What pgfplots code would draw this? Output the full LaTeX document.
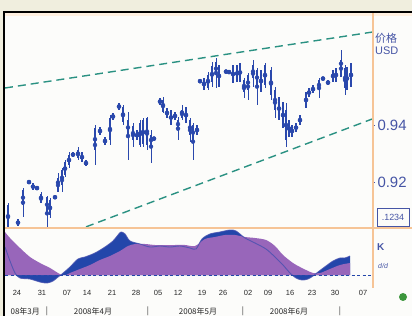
\documentclass[border=0pt]{standalone}
\usepackage{fontspec}
\setmainfont{Liberation Sans}
\newfontfamily\cjk{Noto Sans CJK SC}
\usepackage{pgfplots}
\pgfplotsset{compat=1.18}
\usepackage{pgfplotstable}
\definecolor{bg}{RGB}{240,238,222}
\definecolor{paper}{RGB}{252,252,250}
\definecolor{barblue}{RGB}{42,72,172}
\definecolor{trend}{RGB}{42,145,130}
\definecolor{orangeline}{RGB}{246,196,150}
\definecolor{lblblue}{RGB}{70,85,165}
\definecolor{macdblue}{RGB}{35,70,170}
\definecolor{sigpurple}{RGB}{152,102,186}

\pgfplotstableread{
x hi lo bhi blo
8 0.9126 0.9030 0.9119 0.9042
18 0.9070 0.9046 0.9070 0.9046
23 0.9179 0.9077 0.9172 0.9119
29 0.9207 0.9193 0.9207 0.9193
33 0.9196 0.9172 0.9196 0.9172
37 0.9186 0.9172 0.9186 0.9172
41 0.9165 0.9126 0.9158 0.9126
47 0.9151 0.9030 0.9147 0.9095
50 0.9144 0.9074 0.9137 0.9084
55 0.9154 0.9140 0.9154 0.9140
58 0.9232 0.9165 0.9214 0.9165
62 0.9249 0.9165 0.9242 0.9189
65 0.9277 0.9218 0.9270 0.9225
69 0.9305 0.9249 0.9295 0.9260
73 0.9305 0.9288 0.9305 0.9288
78 0.9323 0.9277 0.9312 0.9284
82 0.9305 0.9270 0.9305 0.9270
86 0.9277 0.9256 0.9277 0.9256
95 0.9400 0.9260 0.9389 0.9312
100 0.9393 0.9365 0.9393 0.9365
105 0.9358 0.9330 0.9358 0.9330
110 0.9435 0.9330 0.9425 0.9347
113 0.9442 0.9418 0.9442 0.9418
119 0.9477 0.9453 0.9477 0.9453
123 0.9470 0.9400 0.9463 0.9411
128 0.9446 0.9277 0.9418 0.9365
133 0.9407 0.9323 0.9396 0.9347
137 0.9382 0.9347 0.9382 0.9347
140 0.9418 0.9323 0.9407 0.9330
143 0.9425 0.9323 0.9418 0.9333
147 0.9428 0.9312 0.9425 0.9330
151 0.9382 0.9267 0.9365 0.9330
154 0.9358 0.9347 0.9358 0.9347
160 0.9495 0.9470 0.9495 0.9470
163 0.9498 0.9442 0.9488 0.9446
167 0.9460 0.9425 0.9460 0.9425
171 0.9453 0.9400 0.9453 0.9400
175 0.9446 0.9418 0.9446 0.9418
178 0.9428 0.9347 0.9418 0.9389
182 0.9470 0.9418 0.9453 0.9425
186 0.9463 0.9407 0.9463 0.9407
190 0.9425 0.9340 0.9418 0.9365
193 0.9407 0.9277 0.9400 0.9347
197 0.9400 0.9365 0.9400 0.9365
200 0.9561 0.9547 0.9561 0.9547
204 0.9565 0.9523 0.9565 0.9523
208 0.9586 0.9523 0.9575 0.9530
212 0.9621 0.9533 0.9607 0.9551
216 0.9635 0.9530 0.9621 0.9575
219 0.9611 0.9533 0.9611 0.9533
226 0.9593 0.9582 0.9593 0.9582
229 0.9593 0.9579 0.9593 0.9579
233 0.9611 0.9547 0.9611 0.9547
237 0.9611 0.9551 0.9611 0.9551
240 0.9618 0.9551 0.9618 0.9551
244 0.9565 0.9495 0.9558 0.9516
248 0.9582 0.9488 0.9575 0.9523
253 0.9628 0.9533 0.9611 0.9565
257 0.9600 0.9470 0.9593 0.9540
261 0.9593 0.9516 0.9593 0.9516
265 0.9618 0.9530 0.9611 0.9540
271 0.9604 0.9488 0.9593 0.9505
275 0.9533 0.9425 0.9523 0.9453
279 0.9498 0.9418 0.9498 0.9418
283 0.9481 0.9389 0.9481 0.9389
286 0.9477 0.9323 0.9453 0.9347
289 0.9418 0.9358 0.9418 0.9358
292 0.9400 0.9358 0.9400 0.9358
296 0.9407 0.9375 0.9407 0.9375
300 0.9435 0.9400 0.9435 0.9400
306 0.9516 0.9460 0.9516 0.9460
309 0.9530 0.9498 0.9530 0.9498
313 0.9540 0.9512 0.9540 0.9512
319 0.9565 0.9495 0.9558 0.9523
323 0.9568 0.9558 0.9568 0.9558
328 0.9558 0.9540 0.9558 0.9540
333 0.9593 0.9551 0.9593 0.9551
336 0.9600 0.9551 0.9600 0.9551
341 0.9663 0.9568 0.9628 0.9568
345 0.9611 0.9505 0.9600 0.9530
347 0.9604 0.9523 0.9604 0.9523
351 0.9618 0.9533 0.9618 0.9533
}\bars

\pgfplotstableread{
x v
5 28
10 14
15 2
20 -3
30 -4
40 -7
47 -8
53 -6
58 -2
62 1
70 8
78 16
85 18
95 22
105 28
113 34
118 40
121 43
125 41
130 34
140 31
150 28
160 29
170 28
180 29
190 27
196 26
202 36
210 41
220 43
230 45
236 44
245 37
255 32
266 26
275 18
283 10
290 2
296 -3
302 -5
308 -4
313 -1
318 3
326 9
333 14
340 17
345 17
350 19
}\macd

\pgfplotstableread{
x v
5 43
10 37
20 27
30 18
40 12
50 7
58 2
62 0
66 0
70 2
80 6
90 10
100 15
110 19
120 24
128 29
135 31
145 31
155 30
165 30
175 30
185 30
195 29
205 36
215 38
225 40
235 40
245 38
255 37
266 35
275 29
283 20
293 12
300 8
306 5
313 2
320 2
330 6
340 10
350 12
}\signal

\begin{document}
\begin{tikzpicture}
\fill[bg] (0,0) rectangle (412bp,316bp);
\fill[paper] (4bp,0) rectangle (412bp,304bp);
\fill[orange!12] (5bp,300bp) rectangle (412bp,303.5bp);

% main price panel
\begin{axis}[
  at={(5bp,88bp)}, anchor=south west, scale only axis,
  width=367bp, height=215bp,
  xmin=5, xmax=372, ymin=0.9039, ymax=0.9793,
  axis line style={draw=none},
  xtick=\empty,
  ytick={0.92,0.94}, yticklabels={0.92,0.94},
  ytick pos=right, yticklabel pos=right,
  tick align=outside, major tick length=3bp,
  ytick style={lblblue, line width=0.9bp},
  yticklabel style={font=\fontsize{15}{15}\selectfont, text=lblblue, xshift=-1bp},
]
\addplot[trend, line width=1.4bp, dash pattern=on 8bp off 5bp] coordinates {(5,0.9530) (372,0.9726)};
\addplot[trend, line width=1.4bp, dash pattern=on 8bp off 5bp] coordinates {(86,0.9043) (372,0.9421)};
\addplot[only marks, mark=none, barblue,
  error bars/.cd, y dir=both, y explicit, error mark=none,
  error bar style={line width=1bp, barblue}]
  table[x=x, y expr={(\thisrow{hi}+\thisrow{lo})/2}, y error expr={(\thisrow{hi}-\thisrow{lo})/2}] {\bars};
\addplot[only marks, mark=none, barblue,
  error bars/.cd, y dir=both, y explicit, error mark=none,
  error bar style={line width=2.8bp, barblue}]
  table[x=x, y expr={(\thisrow{bhi}+\thisrow{blo})/2}, y error expr={(\thisrow{bhi}-\thisrow{blo})/2}] {\bars};
\end{axis}

% lower MACD panel
\begin{axis}[
  at={(5bp,31bp)}, anchor=south west, scale only axis,
  width=367bp, height=57bp,
  xmin=5, xmax=372, ymin=-10, ymax=47,
  axis line style={draw=none}, axis on top,
  ytick=\empty,
  xtick={17,42,67,87,112,136,158,178,202,223,248,268,290,312,335,363},
  xticklabels={24,31,07,14,21,28,05,12,19,26,02,09,16,23,30,07},
  major tick length=0pt,
  xticklabel style={font=\fontsize{7.5}{7.5}\selectfont, text=black!85, yshift=-1.5bp},
  extra y ticks={0}, extra y tick labels={},
  extra y tick style={grid=major, major grid style={macdblue, line width=1bp, dash pattern=on 3bp off 2.5bp}},
]
\addplot[fill=macdblue, draw=none, smooth, tension=0.5] table[x=x,y=v] {\macd} \closedcycle;
\addplot[fill=sigpurple, draw=none, smooth, tension=0.5] table[x=x,y=v] {\signal} \closedcycle;
\addplot[macdblue!70!sigpurple, line width=0.9bp, smooth, tension=0.5, opacity=0.8] table[x=x,y=v] {\macd};
\end{axis}

% frame lines
\draw[orangeline, line width=1.3bp] (5bp,88bp) -- (412bp,88bp);
\draw[orangeline, line width=1.3bp] (373bp,303bp) -- (373bp,28bp);
\draw[black, line width=1.2bp] (4bp,0) -- (4bp,304bp) -- (412bp,304bp);

% right labels
\node[text=lblblue, font=\cjk\fontsize{11}{11}\selectfont, anchor=west, inner sep=0] at (375bp,278bp) {价格};
\node[text=lblblue, font=\fontsize{11}{11}\selectfont, anchor=west, inner sep=0] at (375bp,265bp) {USD};
\node[draw=lblblue, line width=0.8bp, text=lblblue, font=\fontsize{9}{9}\selectfont, minimum width=32bp, minimum height=18bp, inner sep=1bp] at (393bp,99bp) {.1234};
\node[text=lblblue, font=\bfseries\fontsize{10}{10}\selectfont, anchor=west, inner sep=0] at (377bp,69bp) {K};
\node[text=lblblue, font=\itshape\fontsize{7}{7}\selectfont, anchor=west, inner sep=0] at (378bp,50bp) {d/d};
\node[circle, fill={rgb,255:red,60;green,150;blue,60}, minimum size=8bp, inner sep=0] at (403bp,19bp) {};

% month row
\begin{scope}[font=\cjk\fontsize{8}{8}\selectfont, text=black!85]
\node[anchor=east, inner sep=0] at (40bp,5bp) {08年3月};
\node[inner sep=0] at (47bp,5bp) {|};
\node[inner sep=0] at (93bp,5bp) {2008年4月};
\node[inner sep=0] at (148bp,5bp) {|};
\node[inner sep=0] at (198bp,5bp) {2008年5月};
\node[inner sep=0] at (243bp,5bp) {|};
\node[inner sep=0] at (289bp,5bp) {2008年6月};
\node[inner sep=0] at (340bp,5bp) {|};
\end{scope}

\pgfresetboundingbox
\useasboundingbox (0,0) rectangle (412bp,316bp);
\end{tikzpicture}
\end{document}
